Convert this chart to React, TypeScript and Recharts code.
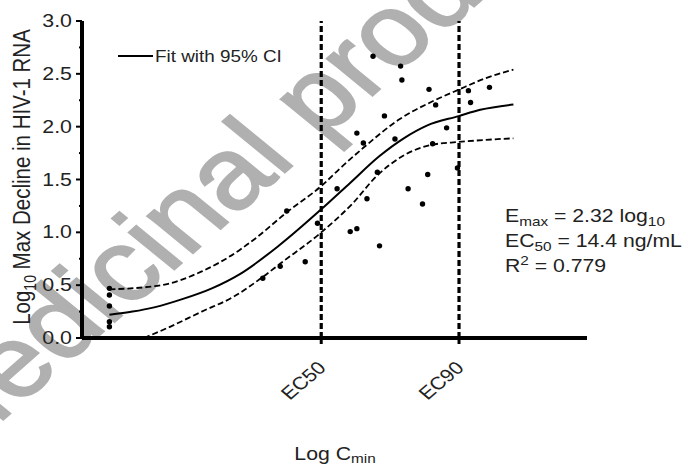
import React from 'react';
import { ComposedChart, Line, Scatter, XAxis, YAxis, ReferenceLine, Customized } from 'recharts';

// Observed data: log Cmin (log10 ng/mL) vs log10 max decline in HIV-1 RNA
const obsLogCmin = [-0.31, -0.31, -0.31, -0.31, -0.31, 0.753, 0.874, 0.919, 1.047, 1.132, 1.268, 1.359, 1.405, 1.405, 1.45, 1.475, 1.517, 1.547, 1.562, 1.596, 1.669, 1.708, 1.717, 1.76, 1.86, 1.896, 1.905, 1.93, 1.951, 2.027, 2.102, 2.178, 2.193, 2.324];
const obsDecline = [0.47, 0.407, 0.303, 0.154, 0.107, 0.565, 0.678, 1.202, 0.722, 1.086, 1.412, 1.007, 1.035, 1.939, 1.845, 1.318, 2.667, 1.569, 0.872, 2.102, 1.883, 2.573, 2.441, 1.412, 1.268, 1.547, 2.353, 1.839, 2.206, 1.989, 1.61, 2.341, 2.228, 2.372];

// Fitted Emax curve
const fitLogCmin = [-0.31, -0.15, 0.0, 0.2, 0.4, 0.6, 0.87, 1.16, 1.36, 1.56, 1.73, 1.89, 2.11, 2.26, 2.49];
const fitDecline = [0.22, 0.25, 0.29, 0.37, 0.47, 0.61, 0.88, 1.22, 1.47, 1.72, 1.89, 2.01, 2.1, 2.16, 2.21];

// Upper 95% CI
const upperLogCmin = [-0.31, 0.05, 0.33, 0.6, 0.7, 0.92, 1.16, 1.3, 1.45, 1.7, 1.93, 2.11, 2.3, 2.49];
const upperDecline = [0.46, 0.5, 0.63, 0.84, 0.94, 1.19, 1.44, 1.62, 1.8, 2.07, 2.24, 2.35, 2.46, 2.54];

// Lower 95% CI
const lowerLogCmin = [-0.07, 0.1, 0.33, 0.55, 0.755, 0.87, 1.15, 1.38, 1.54, 1.72, 1.93, 2.11, 2.3, 2.49];
const lowerDecline = [0.0, 0.1, 0.25, 0.39, 0.58, 0.7, 0.99, 1.28, 1.53, 1.72, 1.83, 1.855, 1.875, 1.89];

const ecTickValues = [1.158, 2.113];
const ecTickLabels = ['EC50', 'EC90'];
const yTickValues = [0, 0.25, 0.5, 0.75, 1, 1.25, 1.5, 1.75, 2, 2.25, 2.5, 2.75, 3];

const FONT = "'Liberation Sans', Arial, Helvetica, sans-serif";
const SX = 1.18;

const zip = (xs: number[], ys: number[]) => xs.map((x, i) => ({ x, y: ys[i] }));
const obsData = zip(obsLogCmin, obsDecline);
const fitData = zip(fitLogCmin, fitDecline);
const upperData = zip(upperLogCmin, upperDecline);
const lowerData = zip(lowerLogCmin, lowerDecline);

const YTick = (props: any) => {
  const { x, y, payload } = props;
  const v = payload.value;
  const major = Math.abs(v * 2 - Math.round(v * 2)) < 1e-6;
  return (
    <g>
      <line x1={x - (major ? 6 : 3)} y1={y} x2={x} y2={y} stroke="#000" strokeWidth={2} />
      {major && (
        <text transform={`translate(${x - 10},${y + 6}) scale(1.22,1)`} textAnchor="end" fontSize={17.5} fontFamily={FONT} fill="#222">
          {v.toFixed(1)}
        </text>
      )}
    </g>
  );
};

const XTick = (props: any) => {
  const { x, y, payload } = props;
  const idx = ecTickValues.indexOf(payload.value);
  return (
    <g>
      <line x1={x} y1={y} x2={x} y2={y + 6} stroke="#000" strokeWidth={3} />
      <text transform={`translate(${x + 6},${y + 31}) scale(${SX},1) rotate(-45)`} textAnchor="end" fontSize={18} fontFamily={FONT} fill="#222">
        {idx >= 0 ? ecTickLabels[idx] : ''}
      </text>
    </g>
  );
};

const Annotations = () => (
  <g fontFamily={FONT} fill="#222">
    {/* legend */}
    <line x1={118} y1={56} x2={153} y2={56} stroke="#000" strokeWidth={2} />
    <text transform={`translate(155,62) scale(${SX},1)`} fontSize={16}>Fit with 95% CI</text>
    {/* y label */}
    <text transform={`translate(30,177) scale(${SX},1) rotate(-90)`} textAnchor="middle" fontSize={20.5}>
      Log<tspan fontSize={14} dy={5}>10</tspan><tspan dy={-5}> Max Decline in HIV-1 RNA</tspan>
    </text>
    {/* x label */}
    <text transform={`translate(335,460) scale(${SX},1)`} textAnchor="middle" fontSize={18}>
      Log C<tspan fontSize={13} dy={2.5}>min</tspan>
    </text>
    {/* stats */}
    <text transform={`translate(505,222) scale(${SX},1)`} fontSize={18}>
      E<tspan fontSize={13} dy={4}>max</tspan><tspan dy={-4}> = 2.32 log</tspan><tspan fontSize={13} dy={4}>10</tspan>
    </text>
    <text transform={`translate(505,247) scale(${SX},1)`} fontSize={18}>
      EC<tspan fontSize={13} dy={4}>50</tspan><tspan dy={-4}> = 14.4 ng/mL</tspan>
    </text>
    <text transform={`translate(505,272) scale(${SX},1)`} fontSize={18}>
      R<tspan fontSize={13} dy={-7}>2</tspan><tspan dy={7}> = 0.779</tspan>
    </text>
  </g>
);

export default function App() {
  return (
    <div style={{ position: 'fixed', left: 0, top: 0, width: 686, height: 465, background: '#fff' }}>
      <svg width={686} height={465} style={{ position: 'absolute', left: 0, top: 0 }}>
        <text
          transform={`translate(-52,468) scale(${SX},1) rotate(-46)`}
          fontSize={101}
          fontFamily={FONT}
          fill="#b0b0b0"
          stroke="#b0b0b0"
          strokeWidth={2}
        >
          Medicinal product no longer authorised
        </text>
      </svg>
      <div style={{ position: 'absolute', left: 0, top: 0 }}>
        <ComposedChart width={686} height={465} margin={{ top: 21, right: 99, bottom: 126, left: 81 }}>
          <XAxis
            type="number"
            dataKey="x"
            domain={[-0.5, 3.0]}
            allowDataOverflow
            ticks={ecTickValues}
            interval={0}
            height={1}
            tickSize={0}
            tickMargin={0}
            tickLine={false}
            tick={<XTick />}
            axisLine={{ stroke: '#000', strokeWidth: 4 }}
          />
          <YAxis
            type="number"
            dataKey="y"
            domain={[0, 3]}
            allowDataOverflow
            ticks={yTickValues}
            interval={0}
            width={1}
            tickSize={0}
            tickMargin={0}
            tickLine={false}
            tick={<YTick />}
            axisLine={{ stroke: '#000', strokeWidth: 4 }}
          />
          <ReferenceLine x={ecTickValues[0]} stroke="#000" strokeWidth={3.2} strokeDasharray="6 3" />
          <ReferenceLine x={ecTickValues[1]} stroke="#000" strokeWidth={3.2} strokeDasharray="6 3" />
          <Line data={upperData} dataKey="y" type="monotone" stroke="#000" strokeWidth={1.8} strokeDasharray="6 3" dot={false} isAnimationActive={false} />
          <Line data={lowerData} dataKey="y" type="monotone" stroke="#000" strokeWidth={1.8} strokeDasharray="6 3" dot={false} isAnimationActive={false} />
          <Line data={fitData} dataKey="y" type="monotone" stroke="#000" strokeWidth={2} dot={false} isAnimationActive={false} />
          <Scatter
            data={obsData}
            dataKey="y"
            isAnimationActive={false}
            shape={(p: any) => <circle cx={p.cx} cy={p.cy} r={2.7} fill="#000" />}
          />
          <Customized component={Annotations} />
        </ComposedChart>
      </div>
    </div>
  );
}
